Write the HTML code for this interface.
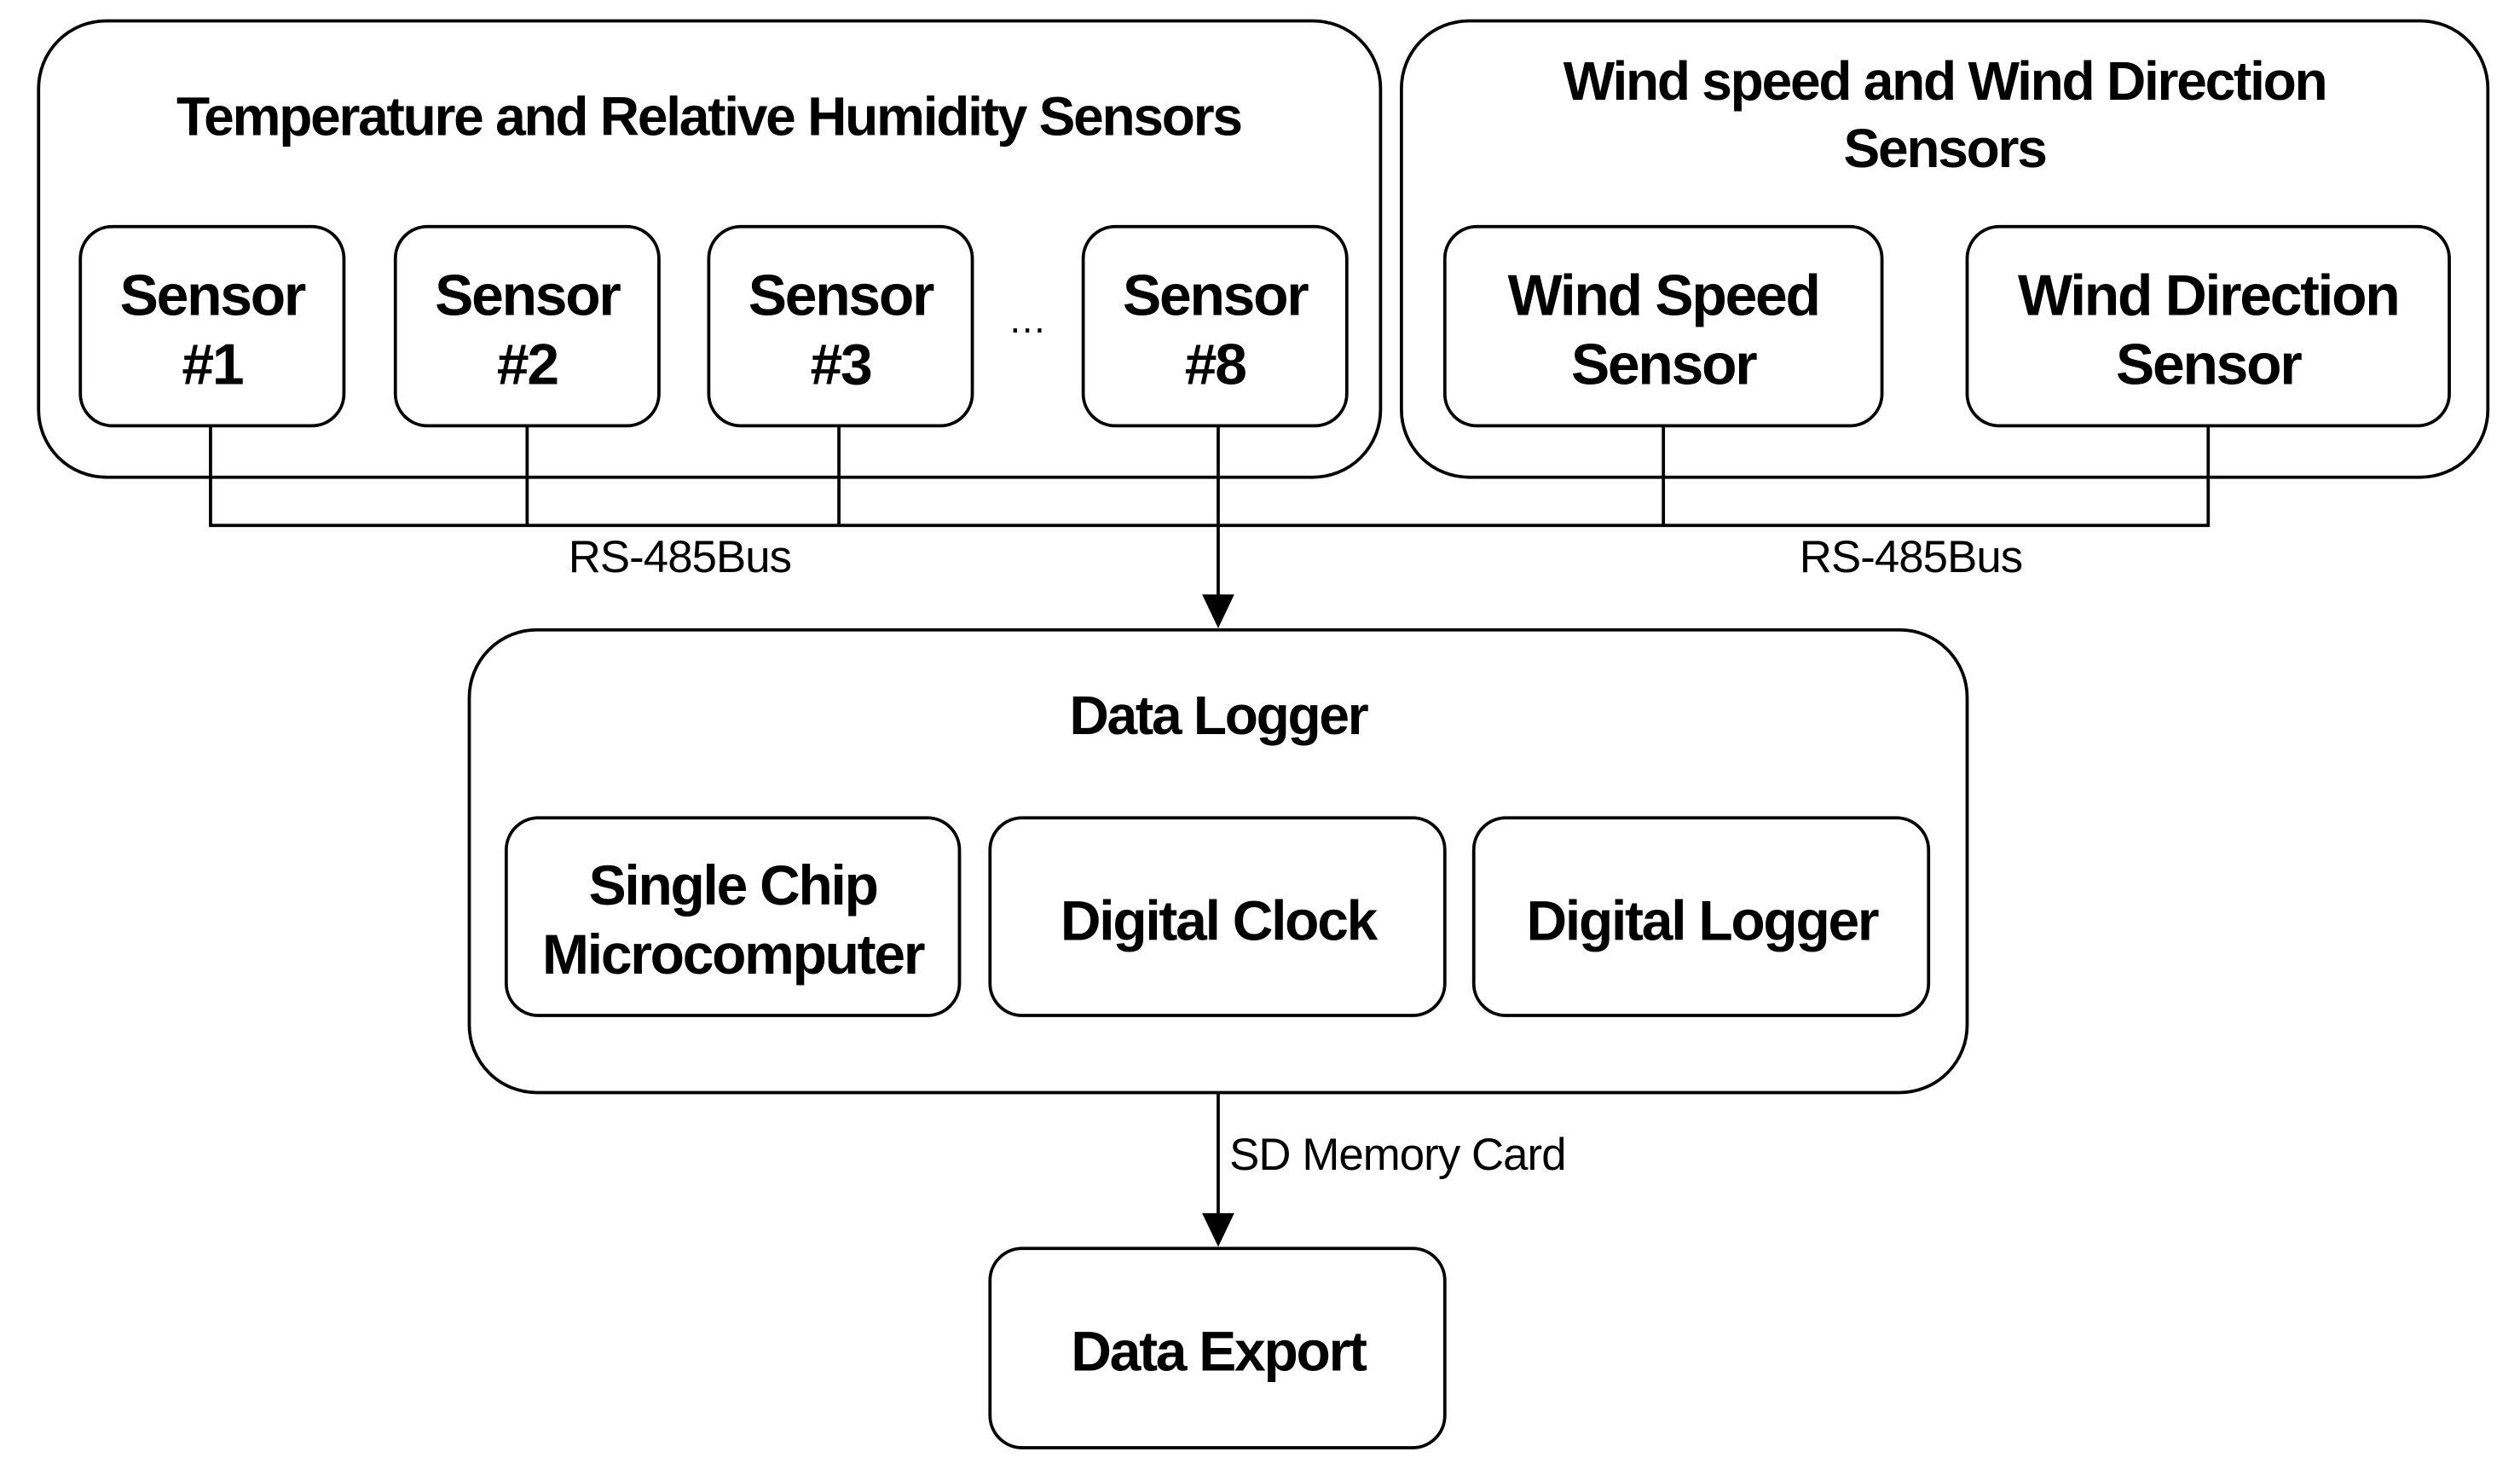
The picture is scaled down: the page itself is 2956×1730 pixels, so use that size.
<!DOCTYPE html>
<html><head><meta charset="utf-8"><style>
html,body{margin:0;padding:0;background:#fff;}
svg{display:block;}
.b{font-family:"Liberation Sans",Arial,sans-serif;font-weight:bold;fill:#000;text-anchor:middle;letter-spacing:-1.2px;}
.n{font-family:"Liberation Sans",Arial,sans-serif;fill:#000;letter-spacing:-0.5px;}
</style></head><body>
<svg width="2956" height="1730" viewBox="0 0 1568 918" preserveAspectRatio="none" xmlns="http://www.w3.org/2000/svg">
<g fill="none" stroke="#000" stroke-width="2">
<rect x="24" y="13" width="835" height="284" rx="42"/>
<rect x="872" y="13" width="676" height="284" rx="42"/>
<rect x="50" y="141" width="164" height="124" rx="20"/>
<rect x="246" y="141" width="164" height="124" rx="20"/>
<rect x="441" y="141" width="164" height="124" rx="20"/>
<rect x="674" y="141" width="164" height="124" rx="20"/>
<rect x="899" y="141" width="272" height="124" rx="20"/>
<rect x="1224" y="141" width="300" height="124" rx="20"/>
<rect x="292" y="392" width="932" height="288" rx="42"/>
<rect x="315" y="509" width="282" height="123" rx="20"/>
<rect x="616" y="509" width="283" height="123" rx="20"/>
<rect x="917" y="509" width="283" height="123" rx="20"/>
<rect x="616" y="777" width="283" height="124" rx="20"/>
<polyline points="131,265 131,327 1374,327 1374,265"/>
<line x1="328" y1="265" x2="328" y2="327"/>
<line x1="522" y1="265" x2="522" y2="327"/>
<line x1="1035" y1="265" x2="1035" y2="327"/>
<line x1="758" y1="265" x2="758" y2="372"/>
<line x1="758" y1="680" x2="758" y2="757"/>
</g>
<polygon points="748,370 768,370 758,391" fill="#000"/>
<polygon points="748,755 768,755 758,776" fill="#000"/>
<text class="b" x="441" y="84" font-size="34">Temperature and Relative Humidity Sensors</text>
<text class="b" x="1210" y="62" font-size="34">Wind speed and Wind Direction</text>
<text class="b" x="1210" y="104" font-size="34">Sensors</text>
<text class="b" x="132" y="196" font-size="36">Sensor</text><text class="b" x="132" y="239" font-size="36">#1</text>
<text class="b" x="328" y="196" font-size="36">Sensor</text><text class="b" x="328" y="239" font-size="36">#2</text>
<text class="b" x="523" y="196" font-size="36">Sensor</text><text class="b" x="523" y="239" font-size="36">#3</text>
<text class="b" x="756" y="196" font-size="36">Sensor</text><text class="b" x="756" y="239" font-size="36">#8</text>
<text class="n" x="639" y="207" font-size="24" text-anchor="middle">…</text>
<text class="b" x="1035" y="196" font-size="36">Wind Speed</text><text class="b" x="1035" y="239" font-size="36">Sensor</text>
<text class="b" x="1374" y="196" font-size="36">Wind Direction</text><text class="b" x="1374" y="239" font-size="36">Sensor</text>
<text class="n" x="423" y="356" font-size="28" text-anchor="middle">RS-485Bus</text>
<text class="n" x="1189" y="356" font-size="28" text-anchor="middle">RS-485Bus</text>
<text class="b" x="758" y="457" font-size="34">Data Logger</text>
<text class="b" x="456" y="563" font-size="35">Single Chip</text>
<text class="b" x="456" y="606" font-size="35">Microcomputer</text>
<text class="b" x="758" y="585" font-size="35">Digital Clock</text>
<text class="b" x="1059" y="585" font-size="35">Digital Logger</text>
<text class="n" x="765" y="728" font-size="28">SD Memory Card</text>
<text class="b" x="758" y="853" font-size="35">Data Export</text>
</svg>
</body></html>
